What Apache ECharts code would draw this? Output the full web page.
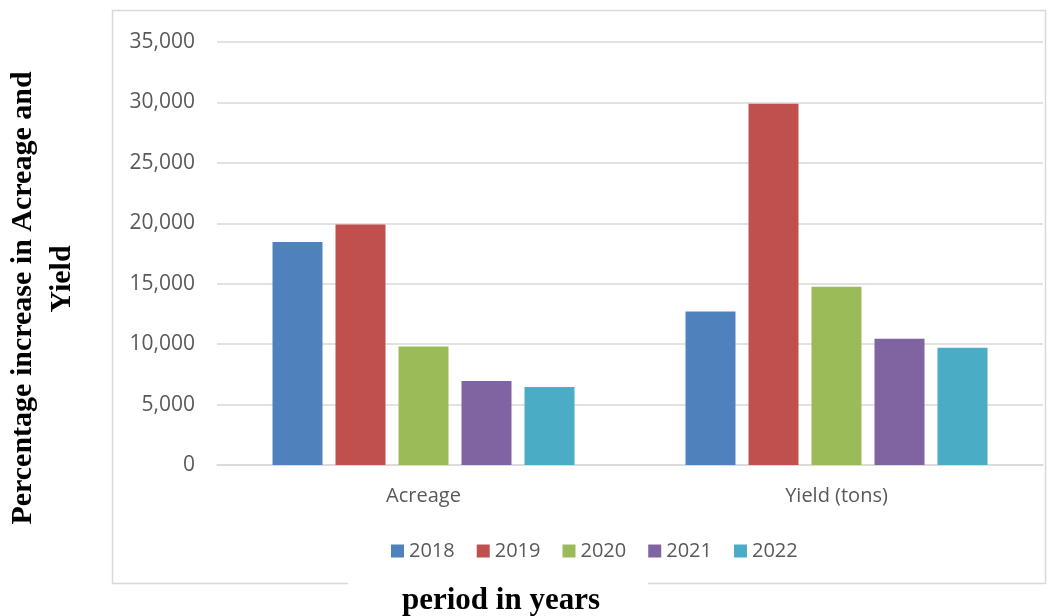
<!DOCTYPE html>
<html><head><meta charset="utf-8">
<script src="https://cdn.jsdelivr.net/npm/echarts@6/dist/echarts.min.js"></script>
<style>html,body{margin:0;padding:0;background:#fff}#c{width:1060px;height:616px}</style>
</head><body><div id="c"></div>
<script>
const categories = ['Acreage', 'Yield (tons)'];
const years = ['2018', '2019', '2020', '2021', '2022'];
const v2018 = [18450, 12700];
const v2019 = [19900, 29900];
const v2020 = [9800, 14750];
const v2021 = [6950, 10450];
const v2022 = [6450, 9700];
const seriesValues = [v2018, v2019, v2020, v2021, v2022];
const colors = ['#4F81BD', '#C0504D', '#9BBB59', '#8064A2', '#4BACC6'];
const yTitle1 = 'Percentage increase in Acreage and';
const yTitle2 = 'Yield';
const xTitle = 'period in years';

const chart = echarts.init(document.getElementById('c'), null, {renderer: 'canvas'});
const labelFont = '"Open Sans", sans-serif';
const serifBold = '"Liberation Serif", "Times New Roman", serif';
chart.setOption({
  animation: false,
  color: colors,
  grid: {left: 217, right: 17, top: 42, bottom: 151},
  legend: {
    data: years, top: 536, left: 386, icon: 'rect',
    itemWidth: 13, itemHeight: 13, itemGap: 22,
    textStyle: {fontFamily: labelFont, fontSize: 20, color: '#595959'}
  },
  xAxis: {
    type: 'category', data: categories,
    axisLine: {lineStyle: {color: '#d9d9d9', width: 1.5}},
    axisTick: {show: false},
    axisLabel: {fontFamily: labelFont, fontSize: 20, color: '#595959', margin: 21}
  },
  yAxis: {
    type: 'value', min: 0, max: 35000, interval: 5000,
    axisLine: {show: false}, axisTick: {show: false},
    axisLabel: {fontFamily: labelFont, fontSize: 21, color: '#595959', margin: 22,
      formatter: v => v.toLocaleString('en-US')},
    splitLine: {lineStyle: {color: '#d9d9d9', width: 1.5}}
  },
  series: years.map((y, i) => ({
    name: y, type: 'bar', data: seriesValues[i],
    barWidth: 50, barGap: '26%',
    itemStyle: {color: colors[i]}
  })),
  graphic: [
    {type: 'rect', shape: {x: 112.5, y: 10.5, width: 933, height: 573},
      style: {fill: 'none', stroke: '#d9d9d9', lineWidth: 1.5}, z: -1},
    {type: 'rect', shape: {x: 348, y: 578, width: 300, height: 38},
      style: {fill: '#fff'}, z: 10},
    {type: 'text', x: 501, y: 601, z: 11,
      style: {text: xTitle, font: 'bold 31px ' + serifBold,
        fill: '#000', textAlign: 'center', textVerticalAlign: 'middle'}},
    {type: 'text', x: 23, y: 298, rotation: Math.PI / 2, z: 11,
      style: {text: yTitle1, font: 'bold 30px ' + serifBold,
        fill: '#000', textAlign: 'center', textVerticalAlign: 'middle'}},
    {type: 'text', x: 62, y: 279, rotation: Math.PI / 2, z: 11,
      style: {text: yTitle2, font: 'bold 30px ' + serifBold,
        fill: '#000', textAlign: 'center', textVerticalAlign: 'middle'}}
  ]
});
</script></body></html>
